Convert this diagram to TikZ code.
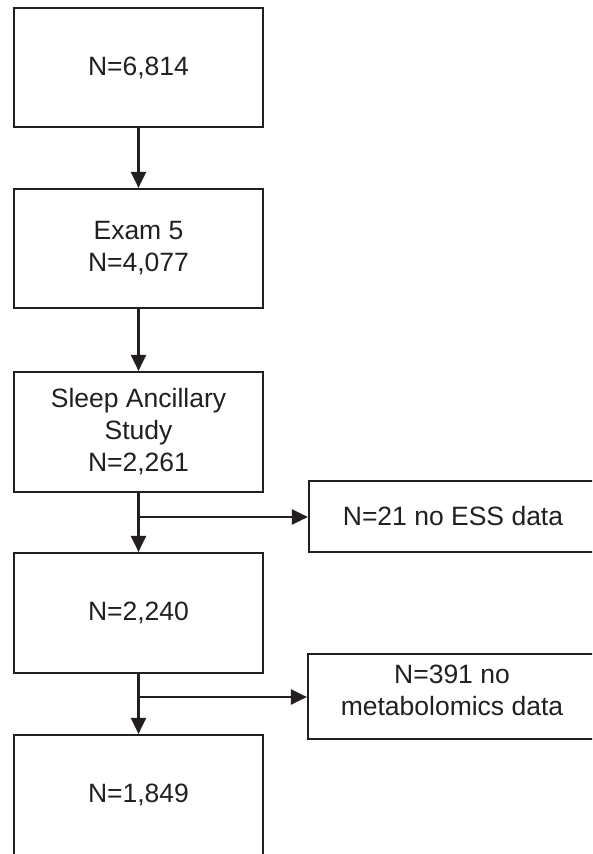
\documentclass[tikz,border=0pt]{standalone}
\usepackage{fontspec}
\setmainfont{Liberation Sans}
\usetikzlibrary{arrows.meta}
\definecolor{ink}{HTML}{231F20}
\tikzset{
  x=1pt, y=-1pt,
  every node/.style={font=\fontsize{26.5}{32}\selectfont, text=ink, align=center, inner sep=0pt},
  mainbox/.style={draw=ink, line width=2.2pt, minimum width=249pt, minimum height=119pt},
  sidebox/.style={draw=ink, line width=2.2pt, minimum width=288pt},
  flow/.style={draw=ink, line width=2.2pt, -{Triangle[length=16pt,width=15pt]}},
}
\begin{document}
\begin{tikzpicture}
\useasboundingbox (0,0) rectangle (592,854);
\clip (0,0) rectangle (592,854);
\fill[white] (0,0) rectangle (592,854);
\node[mainbox] (b1) at (138.5,67.5) {N=6,814};
\node[mainbox] (b2) at (138.5,248.5) {\fontsize{26.5}{37}\selectfont Exam 5\\N=4,077};
\node[mainbox, minimum height=120pt] (b3) at (138.5,432) {Sleep Ancillary\\Study\\N=2,261};
\node[mainbox, minimum height=120pt] (b4) at (138.5,613) {N=2,240};
\node[mainbox, minimum height=120pt] (b5) at (138.5,795) {N=1,849};
\node[sidebox, minimum height=71pt] (s1) at (453,516.5) {N=21 no ESS data};
\node[sidebox, minimum height=85pt, text depth=12pt] (s2) at (452,696.5) {\fontsize{26.5}{33}\selectfont N=391 no\\metabolomics data};
\coordinate (j1) at (138.5,517);
\coordinate (j2) at (138.5,697);
\draw[flow] (b1.south) -- (b2.north);
\draw[flow] (b2.south) -- (b3.north);
\draw[flow] (b3.south) -- (b4.north);
\draw[flow] (b4.south) -- (b5.north);
\draw[flow] (j1) -- (j1 -| s1.west);
\draw[flow] (j2) -- (j2 -| s2.west);
\end{tikzpicture}
\end{document}
